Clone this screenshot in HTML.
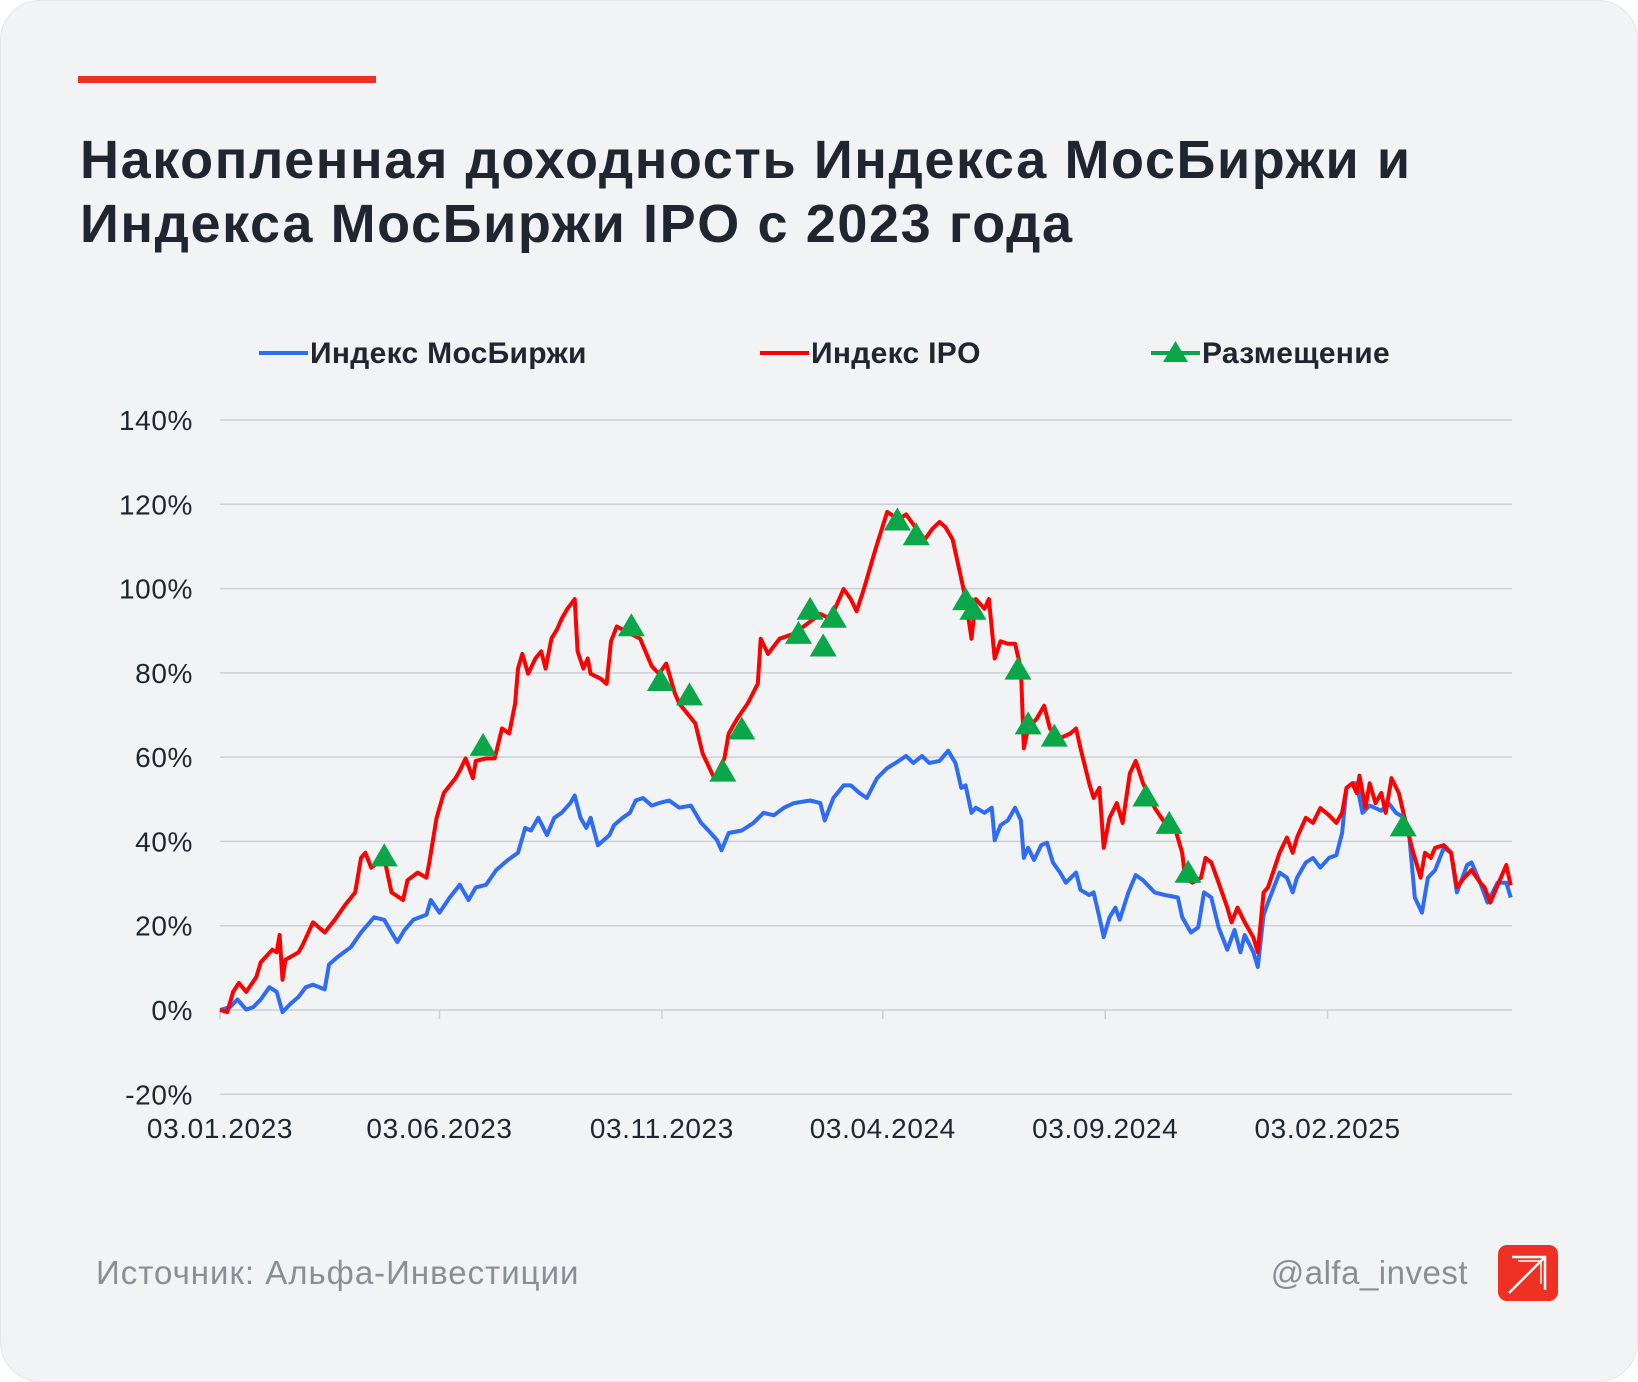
<!DOCTYPE html>
<html><head><meta charset="utf-8"><style>
html,body{margin:0;padding:0;background:#fff;}
body{width:1638px;height:1382px;overflow:hidden;font-family:"Liberation Sans","DejaVu Sans",sans-serif;}
.card{position:absolute;left:0;top:0;width:1636px;height:1380px;background:#f1f3f5;border-radius:40px;border:1px solid #e4e6e9;}
.bar{position:absolute;left:78px;top:76px;width:298px;height:7px;background:#ef3124;}
.title{position:absolute;left:80px;top:128px;font-size:54px;font-weight:bold;line-height:64px;color:#1f2630;letter-spacing:1.6px;}
.src{position:absolute;left:96px;top:1254px;font-size:33px;color:#8a8f96;letter-spacing:1px;}
.handle{position:absolute;right:170px;top:1254px;font-size:33px;color:#8a8f96;letter-spacing:0.5px;}
.logo{position:absolute;left:1498px;top:1245px;width:60px;height:56px;background:#ef3124;border-radius:9px;}
svg{position:absolute;left:0;top:0;}
</style></head><body>
<div class="card"></div>
<div class="bar"></div>
<div class="title">Накопленная доходность Индекса МосБиржи и<br>Индекса МосБиржи IPO с 2023 года</div>
<div class="src">Источник: Альфа-Инвестиции</div>
<div class="handle">@alfa_invest</div>
<div class="logo"><svg width="60" height="56" style="position:absolute;left:0;top:0"><path d="M14 12 L47 12 L47 45" fill="none" stroke="#fff" stroke-width="2.5"/><path d="M11 48 L47 12" stroke="#fff" stroke-width="2.5"/><path d="M20 16 L43 16 L43 39" fill="none" stroke="#fff" stroke-width="1.5"/></svg></div>
<svg id="chart" width="1638" height="1382"></svg>
<script>
const yTicks=[140,120,100,80,60,40,20,0,-20];
const xTickDays=[0,151,304,456,609,762];
const xTickLabels=["03.01.2023","03.06.2023","03.11.2023","03.04.2024","03.09.2024","03.02.2025"];
const ipoDays=[0,5,9,13,18,25,28,36,39,41,43,45,54,57,64,72,79,86,93,97,100,104,113,118,126,129,136,142,144,149,154,162,165,169,174,176,183,189,194,199,203,205,208,212,217,221,224,228,232,235,239,244,246,250,253,255,262,266,269,273,279,289,297,302,307,313,316,327,332,340,347,350,356,363,370,372,377,385,395,413,420,429,434,438,443,449,452,459,467,472,477,485,490,495,499,504,510,513,517,520,526,529,533,537,542,547,551,553,556,562,567,571,578,585,589,592,598,601,605,608,612,617,621,626,630,635,643,650,657,662,664,669,675,678,682,687,693,696,700,705,711,714,718,721,729,734,738,741,747,752,757,763,768,772,775,779,782,784,788,791,795,799,802,806,811,815,820,826,829,833,836,842,847,851,856,861,867,870,874,879,885,888];
const ipoValues=[0,-0.5,4.3,6.4,4.3,7.8,11.3,14.3,13.7,17.8,7.2,11.9,13.7,15.5,20.8,18.4,21.4,24.9,27.9,36.1,37.3,33.8,36.1,27.9,26.1,30.8,32.6,31.4,35.0,45.6,51.5,55.0,56.8,59.7,55.0,59.1,59.7,59.7,66.8,65.6,72.7,81.0,84.5,79.8,83.4,85.1,81.0,88.1,90.4,92.8,95.2,97.5,85.1,81.0,83.4,79.8,78.6,77.4,87.5,91.0,89.9,88.1,81.6,79.8,82.2,75.1,72.7,68.0,60.9,55.0,59.7,65.6,69.2,72.7,77.4,88.1,84.5,88.1,89.3,94.0,92.8,99.9,97.5,94.6,99.9,107.0,110.5,118.2,116.4,117.6,115.2,111.7,114.1,115.8,114.6,111.7,102.3,97.5,88.1,97.5,95.2,97.5,83.4,87.5,86.9,86.9,81.0,62.1,66.8,69.2,72.2,66.8,64.5,65.6,66.8,62.1,53.8,50.3,52.7,38.5,45.6,49.1,44.4,56.2,59.1,53.8,48.0,44.4,43.2,37.3,31.4,30.2,31.4,36.1,35.0,30.2,24.3,20.8,24.3,20.8,17.2,13.7,27.9,29.1,37.3,40.9,37.3,40.9,45.6,44.4,47.9,46.2,44.4,46.8,52.7,53.8,51.5,55.6,48.0,53.8,49.1,51.5,46.8,55.0,51.5,45.6,38.5,31.4,37.3,36.1,38.5,39.1,37.3,29.1,31.4,33.2,30.2,29.1,25.5,29.6,34.4,29.6];
const moexDays=[0,7,12,18,23,28,34,39,43,48,54,59,64,72,75,81,90,97,106,113,118,122,127,133,142,145,151,158,165,171,176,183,190,198,205,210,214,219,225,230,235,241,244,248,252,255,260,268,271,277,282,286,291,297,302,309,316,324,331,336,342,345,350,359,367,374,381,388,395,406,413,416,422,429,434,440,445,452,459,467,472,477,483,488,495,501,506,510,513,517,520,526,531,533,537,542,547,551,553,556,560,565,569,573,578,582,589,592,598,601,605,608,612,616,619,625,630,635,643,650,659,662,668,673,677,682,687,693,698,702,705,711,714,718,721,729,734,738,741,747,752,757,763,768,772,775,779,782,786,791,799,804,809,815,818,822,827,831,836,842,847,851,858,861,867,872,879,885,888];
const moexValues=[0,0.7,2.5,0.1,0.7,2.5,5.4,4.3,-0.5,1.3,3.1,5.4,6.0,4.9,10.8,12.6,14.9,18.4,22.0,21.4,18.4,16.1,19.0,21.4,22.6,26.1,23.1,26.7,29.7,26.1,29.1,29.7,33.2,35.6,37.3,43.2,42.6,45.6,41.5,45.6,46.8,49.1,50.9,45.6,43.2,45.6,39.1,41.5,43.8,45.6,46.8,49.7,50.3,48.5,49.1,49.7,48.0,48.5,44.4,42.6,40.3,37.9,42.0,42.6,44.4,46.8,46.2,48.0,49.1,49.7,49.1,45.0,50.3,53.3,53.3,51.5,50.3,55.0,57.4,59.1,60.3,58.6,60.3,58.6,59.1,61.5,58.6,52.7,53.3,46.8,48.0,46.8,48.0,40.3,43.8,45.0,48.0,45.0,36.1,38.5,35.6,39.1,39.7,35.0,32.6,30.2,32.6,28.5,27.3,27.9,22.0,17.3,22.0,24.3,21.4,27.9,32.0,30.8,27.9,27.3,26.7,22.0,18.4,19.6,27.9,26.7,19.6,14.3,19.0,13.7,17.8,13.7,10.2,22.6,25.5,32.6,31.4,27.9,31.4,35.0,36.1,33.8,36.1,36.7,42.0,52.7,53.8,53.8,46.8,48.5,47.3,49.1,46.8,45.6,42.0,26.7,23.1,31.4,33.2,38.5,37.3,27.9,34.4,35.0,30.2,25.5,30.2,30.2,26.7];
const placeDays=[113,181,283,303,323,346,359,398,406,415,422,466,479,513,518,549,556,574,637,653,666,814];
const placeValues=[36.7,62.9,91.3,78.3,74.9,56.8,66.8,89.5,95.2,86.5,93.3,116.4,112.9,97.5,95.2,81.0,68.0,65.1,50.9,44.4,32.8,43.8];

const NS="http://www.w3.org/2000/svg";
const svg=document.getElementById('chart');
const X0=220,X1=1512,PXD=1.4535;
function xs(d){return X0+d*PXD;}
function ys(v){return 1010-(v)*590/140;}
function mk(tag,attrs,parent){const e=document.createElementNS(NS,tag);for(const k in attrs)e.setAttribute(k,attrs[k]);(parent||svg).appendChild(e);return e;}
yTicks.forEach(t=>{
  const g=mk('line',{x1:X0,x2:X1,y1:ys(t),y2:ys(t),stroke:'#cdd0d4','stroke-width':1.5});
  
  
  const l=mk('text',{x:193,y:ys(t)+10,'text-anchor':'end','font-size':28,fill:'#1f2630','letter-spacing':0.6,'font-family':'Liberation Sans, sans-serif'});
  l.textContent=t+'%';
  
  
});
xTickDays.forEach((d,i)=>{
  const tk=mk('line',{x1:xs(d),x2:xs(d),y1:ys(0),y2:ys(0)+9,stroke:'#cdd0d4','stroke-width':1.5});
  
  
  const l=mk('text',{x:xs(d),y:1138,'text-anchor':'middle','font-size':28,fill:'#1f2630','letter-spacing':0.6,'font-family':'Liberation Sans, sans-serif'});
  l.textContent=xTickLabels[i];
  
  
});
function line(days,vals,color,name){
  const p=mk('polyline',{points:days.map((d,i)=>xs(d).toFixed(1)+','+ys(vals[i]).toFixed(1)).join(' '),fill:'none',stroke:color,'stroke-width':4,'stroke-linejoin':'round'});
  
  
}
line(moexDays,moexValues,'#2e6cf6','moex-index-line');
line(ipoDays,ipoValues,'#ff0000','ipo-index-line');
function tri(cx,cy,name){
  const t=mk('polygon',{points:`${cx-13.5},${cy+11} ${cx+13.5},${cy+11} ${cx},${cy-12}`,fill:'#0aa64a'});
  
  
}
placeDays.forEach((d,i)=>tri(xs(d),ys(placeValues[i]),'placement-marker'));
const leg=[[259,'#2e6cf6','Индекс МосБиржи','legend-moex'],[760,'#ff0000','Индекс IPO','legend-ipo'],[1151,'#0aa64a','Размещение','legend-placement']];
leg.forEach(([x,c,txt,nm])=>{
  const g=mk('g',{});
  
  
  mk('line',{x1:x,x2:x+49,y1:353,y2:353,stroke:c,'stroke-width':4},g);
  if(nm==='legend-placement'){mk('polygon',{points:`${x+12},${362} ${x+37},${362} ${x+24.5},${341}`,fill:c},g);}
  const t=mk('text',{x:x+51,y:363,'font-size':30,fill:'#1f2630','letter-spacing':0.3,'font-family':'Liberation Sans, sans-serif','font-weight':'bold'},g);
  t.textContent=txt;
});
</script>
</body></html>
